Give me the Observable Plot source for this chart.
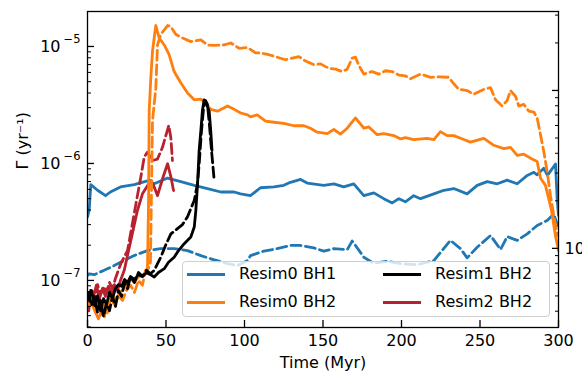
<!DOCTYPE html>
<html><head><meta charset="utf-8">
<script src="https://cdn.jsdelivr.net/npm/d3@7"></script>
<script src="https://cdn.jsdelivr.net/npm/@observablehq/plot@0.6"></script>
<style>
body{margin:0;background:#fff;font-family:"DejaVu Sans",sans-serif}
#wrap{position:relative;width:582px;height:373px;overflow:hidden}
#wrap svg{position:absolute;left:0;top:0}
#legend{position:absolute;left:182px;top:261px;width:366px;height:54px;border:1px solid #cfcfcf;border-radius:4px;background:rgba(255,255,255,0.8);font-size:16px;color:#000}
.item{position:absolute;height:20px;line-height:20px;white-space:nowrap}
.swatch{position:absolute;left:0;top:9px;width:38px;height:3px}
.lab{position:absolute;left:52px;top:0}
</style></head><body><div id="wrap"></div>
<script>
// ---- data: [time (Myr), Gamma (yr^-1)] ----
const blueSolid = [[0,3.5e-7],[1.1,4.0e-7],[2.1,6.6e-7],[6.4,5.9e-7],[11.5,5.3e-7],[14.6,5.7e-7],[21,6.3e-7],[29.7,6.6e-7],[38.2,7.1e-7],[42.5,6.7e-7],[51,7.5e-7],[59.4,7.0e-7],[68,6.5e-7],[76.4,6.1e-7],[84.9,5.7e-7],[93.4,5.7e-7],[97.5,5.5e-7],[103.8,5.3e-7],[110.2,6.2e-7],[118.7,6.3e-7],[125,6.5e-7],[129.3,6.9e-7],[135.7,7.3e-7],[139.9,6.8e-7],[150.5,6.5e-7],[156.9,6.7e-7],[163.2,6.3e-7],[169.6,6.7e-7],[176,5.3e-7],[182.4,5.6e-7],[188.7,5.0e-7],[194.1,4.6e-7],[198.3,5.0e-7],[202.5,4.7e-7],[207.8,5.3e-7],[212.1,5.0e-7],[220.6,5.5e-7],[227,5.9e-7],[233.3,6.1e-7],[241.8,5.5e-7],[248.2,6.5e-7],[254.6,7.0e-7],[261,6.7e-7],[267.3,7.2e-7],[273.7,6.7e-7],[280.1,7.9e-7],[284.3,8.4e-7],[286.4,8.0e-7],[290.6,9.1e-7],[293,7.9e-7],[298.1,9.9e-7],[299.2,4.8e-7],[300,3.6e-7]];
const blueDashed = [[0,1.1e-7],[1.1,1.14e-7],[4.3,1.12e-7],[10.6,1.22e-7],[17,1.34e-7],[23.4,1.48e-7],[29.7,1.63e-7],[38.2,1.8e-7],[46.7,1.87e-7],[55.2,1.87e-7],[63.7,1.8e-7],[72.2,1.63e-7],[80.7,1.5e-7],[89.2,1.39e-7],[95.5,1.34e-7],[101.9,1.48e-7],[103.8,1.63e-7],[112.3,1.78e-7],[120.8,1.87e-7],[129.3,1.99e-7],[135.7,1.99e-7],[144.1,1.9e-7],[150.5,1.78e-7],[156.9,1.87e-7],[165.4,1.83e-7],[168.6,2.17e-7],[170.7,1.99e-7],[176,1.58e-7],[182.4,1.4e-7],[190.9,1.46e-7],[199.4,1.39e-7],[210,1.36e-7],[220.6,1.48e-7],[231.2,2.2e-7],[237.6,1.87e-7],[241.8,1.56e-7],[248.2,1.92e-7],[256.7,2.42e-7],[263.1,1.84e-7],[267.3,2.37e-7],[273.7,2.2e-7],[280.1,2.5e-7],[286.4,2.95e-7],[292.8,3.26e-7],[297,3.7e-7],[299.4,2.95e-7]];
const orangeSolid = [[0.6,6.75e-8],[3.2,6.1e-8],[5.1,5.3e-8],[7,4.7e-8],[8.9,5.5e-8],[10.8,4.9e-8],[12.7,6.2e-8],[14.6,6.75e-8],[16.6,7.3e-8],[18.5,6.75e-8],[20.4,7.9e-8],[22.3,8.2e-8],[24.8,9.1e-8],[27.4,1.04e-7],[29.9,9.6e-8],[32.5,1.08e-7],[35,1.1e-7],[36.9,1.17e-7],[38.2,1.27e-7],[38.9,4.8e-7],[39.3,2.8e-6],[40.3,5.3e-6],[41.4,9.1e-6],[43.5,1.51e-5],[45.7,1.18e-5],[48.9,1.03e-5],[52,8.5e-6],[55.2,6.1e-6],[59.4,4.9e-6],[63.7,4.0e-6],[68,3.5e-6],[72.2,3.55e-6],[75.2,3.3e-6],[78.5,2.9e-6],[82.8,2.8e-6],[89.2,3.1e-6],[93.4,2.9e-6],[97.6,2.7e-6],[101.9,2.6e-6],[103.8,2.5e-6],[108.1,2.6e-6],[113.4,2.3e-6],[118.7,2.25e-6],[125,2.2e-6],[131.4,2.1e-6],[137.8,2.1e-6],[142,2.0e-6],[146.3,1.85e-6],[152.7,1.8e-6],[156.9,1.95e-6],[161.1,1.78e-6],[165.4,2.0e-6],[170.7,2.45e-6],[176,2.0e-6],[179.2,2.05e-6],[184.5,1.76e-6],[188.7,1.8e-6],[195.1,1.73e-6],[199.4,1.62e-6],[202.5,1.66e-6],[207.8,1.6e-6],[216.4,1.64e-6],[220.6,1.6e-6],[224.8,1.87e-6],[229.1,1.73e-6],[233.3,1.73e-6],[239.7,1.6e-6],[243.9,1.52e-6],[252.4,1.64e-6],[258.8,1.43e-6],[265.2,1.34e-6],[269.4,1.37e-6],[273.7,1.17e-6],[277.9,1.2e-6],[282.2,1.11e-6],[286.4,1.04e-6],[288.5,7.5e-7],[291.7,6.5e-7],[295.5,4.0e-7],[298.1,2.4e-7],[300,1.8e-7]];
const orangeDashed = [[0.6,6.1e-8],[3.2,7.3e-8],[5.1,5.5e-8],[7,6.75e-8],[8.9,5.1e-8],[10.8,6.1e-8],[12.7,5.3e-8],[14.6,7.0e-8],[17.2,6.2e-8],[19.7,7.4e-8],[22.3,6.75e-8],[24.8,8.2e-8],[27.4,9.1e-8],[29.9,7.9e-8],[32.5,1.0e-7],[35,9.1e-8],[36.9,1.22e-7],[38.9,1.27e-7],[40.1,1.43e-7],[41.4,2.3e-6],[43.5,4.4e-6],[44.6,1.03e-5],[46.7,1.27e-5],[51,1.51e-5],[53.1,1.48e-5],[56.2,1.27e-5],[60.5,1.18e-5],[65.8,1.1e-5],[72.2,1.14e-5],[76.4,1.03e-5],[80.7,1.02e-5],[87.1,1.03e-5],[91.3,1.07e-5],[96.6,9.65e-6],[101.9,9.8e-6],[107,8.8e-6],[110.2,8.8e-6],[115.5,8.5e-6],[120.8,8.1e-6],[126.1,7.7e-6],[130.4,7.95e-6],[134.6,8.2e-6],[138.9,7.5e-6],[144.1,7.0e-6],[148.4,7.1e-6],[153.7,6.5e-6],[158,6.4e-6],[162.2,6.1e-6],[165.4,6.4e-6],[168.6,7.95e-6],[170.7,8.1e-6],[172.8,6.9e-6],[176,5.8e-6],[181.3,6.1e-6],[185.5,5.8e-6],[189.8,6.2e-6],[194.1,6.1e-6],[198.3,5.7e-6],[202.5,5.6e-6],[205.7,5.3e-6],[212.1,5.8e-6],[218.5,5.45e-6],[223.8,5.5e-6],[230.1,5.45e-6],[233.3,4.8e-6],[236.5,4.3e-6],[241.8,4.2e-6],[246,3.9e-6],[252.4,4.3e-6],[256.7,4.45e-6],[259.9,3.5e-6],[264.1,3.1e-6],[267.3,3.45e-6],[269.4,4.2e-6],[272.6,3.75e-6],[274.7,3.1e-6],[277.9,3.2e-6],[281.1,2.8e-6],[284.3,2.75e-6],[286.4,2.45e-6],[288.5,1.77e-6],[290.6,1.27e-6],[292.8,8.5e-7],[294.9,5.3e-7],[297.5,3.26e-7],[299.4,2.42e-7]];
const blackSolid = [[0.6,6.75e-8],[2.5,8.2e-8],[4.5,6.1e-8],[6.4,7.4e-8],[8.3,5.5e-8],[10.2,7.0e-8],[12.1,6.2e-8],[14,7.9e-8],[15.9,7.0e-8],[17.8,8.5e-8],[19.7,9.2e-8],[21.7,8.9e-8],[23.6,1.02e-7],[25.5,9.6e-8],[27.4,1.08e-7],[29.9,1.02e-7],[32.5,1.12e-7],[35,1.08e-7],[37.6,1.17e-7],[40.1,1.12e-7],[42.5,1.07e-7],[45.2,1.17e-7],[48.9,1.26e-7],[51.6,1.43e-7],[55.2,1.58e-7],[58,1.8e-7],[61.6,2.06e-7],[65.8,2.35e-7],[68,2.86e-7],[69,3.96e-7],[70.1,6.7e-7],[71.1,1.29e-6],[72.2,1.91e-6],[73.2,2.84e-6],[74.3,3.5e-6],[75.8,3.2e-6],[77.5,2.8e-6],[78.5,1.91e-6],[79.3,1.29e-6]];
const blackDashed = [[0.6,7.9e-8],[2.5,6.1e-8],[4.5,7.3e-8],[6.4,5.3e-8],[8.3,6.75e-8],[10.2,4.9e-8],[12.1,6.4e-8],[14,5.5e-8],[15.9,7.3e-8],[17.8,6.0e-8],[19.7,8.2e-8],[21.7,7.3e-8],[23.6,9.6e-8],[25.5,8.5e-8],[27.4,1.08e-7],[29.9,9.6e-8],[32.5,1.17e-7],[35,1.08e-7],[37.6,1.22e-7],[40.1,1.14e-7],[42.5,1.22e-7],[46.7,1.58e-7],[49.7,1.99e-7],[53.1,2.5e-7],[57.3,2.77e-7],[60.5,3.0e-7],[63.7,3.5e-7],[68,4.83e-7],[70.1,6.75e-7],[71.3,1.06e-6],[72.6,1.91e-6],[73.9,2.95e-6],[75.2,3.45e-6],[76.4,3.2e-6],[77.7,2.11e-6],[79,1.29e-6],[80.7,7.16e-7]];
const redSolid = [[0.8,5.5e-8],[1.9,8.2e-8],[3.8,7.3e-8],[5.7,9.1e-8],[7.6,7.0e-8],[9.6,8.5e-8],[11.5,7.3e-8],[13.4,8.9e-8],[15.3,7.6e-8],[17.2,9.2e-8],[19.1,8.2e-8],[21,1.0e-7],[23.4,1.22e-7],[27.6,2.2e-7],[31.8,3.96e-7],[35,5.5e-7],[37.1,6.1e-7],[40.3,7.16e-7],[42.5,6.3e-7],[44.6,5.3e-7],[47.8,7.4e-7],[51,9.95e-7],[53.1,7.7e-7],[54.8,5.87e-7]];
const redDashed = [[0.6,6.75e-8],[2.5,8.5e-8],[4.5,7.0e-8],[6.4,9.2e-8],[8.3,7.6e-8],[10.2,8.9e-8],[12.1,7.9e-8],[14,9.6e-8],[15.9,8.5e-8],[17.8,1.04e-7],[21.2,1.39e-7],[25.5,1.8e-7],[29.7,3.7e-7],[34,7.7e-7],[36.1,1.13e-6],[38.2,1.25e-6],[41.4,1.06e-6],[44.6,1.09e-6],[47.8,1.38e-6],[49.9,1.73e-6],[51.8,2.11e-6],[53.1,1.65e-6],[54.1,1.06e-6]];

const seriesNames = ["Resim0 BH1", "Resim0 BH2", "Resim1 BH2", "Resim2 BH2"];
const seriesColors = ["#1f77b4", "#ff7f0e", "#000000", "#b8222f"];

const xTicks = [0, 50, 100, 150, 200, 250, 300];
const yMajor = [1e-7, 1e-6, 1e-5];
const yMinor = [];
for (let e = -8; e <= -5; e++) for (let m = 2; m <= 9; m++) { const v = m * 10 ** e; if (v >= 3.96e-8 && v <= 1.99e-5) yMinor.push(v); }
// right-hand twin axis (its labels run off the figure edge, as in the original)
const rightMajor = [1, 10];
const rightMajorLabels = ["10⁰", "10¹"];
const rightMinor = [];
for (let e = -1; e <= 1; e++) for (let m = 2; m <= 9; m++) rightMinor.push(m * 10 ** e);
const rightToLeft = v => 10 ** (-6.726 + 1.350 * Math.log10(v));

const expOf = d => "−" + String(Math.abs(Math.round(Math.log10(d))));

const toRows = arr => arr.map(([t, g]) => ({t, g}));
const lw = 2.8, dash = "10,4.5";
const lineMark = (arr, color, dashed) => Plot.line(toRows(arr), {x: "t", y: "g", stroke: color, strokeWidth: lw, strokeDasharray: dashed ? dash : null, strokeLinejoin: "round", clip: true});

const rightPos = rightMajor.map(rightToLeft);
const rightMinorPos = rightMinor.map(rightToLeft).filter(v => v >= 3.96e-8 && v <= 1.99e-5);

const chart = Plot.plot({
  width: 582, height: 373,
  marginLeft: 87, marginRight: 24, marginTop: 11, marginBottom: 46,
  style: {fontFamily: "DejaVu Sans, sans-serif", fontSize: "16px", background: "white", color: "black", overflow: "hidden"},
  x: {domain: [0, 300]},
  y: {type: "log", domain: [3.96e-8, 1.99e-5]},
  marks: [
    lineMark(blueSolid, seriesColors[0], false),
    lineMark(blueDashed, seriesColors[0], true),
    lineMark(redSolid, seriesColors[3], false),
    lineMark(redDashed, seriesColors[3], true),
    lineMark(orangeSolid, seriesColors[1], false),
    lineMark(orangeDashed, seriesColors[1], true),
    lineMark(blackSolid, seriesColors[2], false),
    lineMark(blackDashed, seriesColors[2], true),
    Plot.axisX(xTicks, {anchor: "bottom", tickSize: -7, tickPadding: 14, strokeWidth: 1.3, fontSize: 16, tickFormat: d => String(d), label: null}),
    Plot.axisY(yMajor, {anchor: "left", tickSize: -7, tickPadding: 0, strokeWidth: 1.3, tickFormat: () => "", label: null}),
    Plot.text(yMajor, {y: d => d, frameAnchor: "left", text: () => "10", textAnchor: "end", dx: -27, fontSize: 16, fill: "black"}),
    Plot.text(yMajor, {y: d => d, frameAnchor: "left", text: expOf, textAnchor: "end", dx: -7, dy: -7, fontSize: 11.5, fill: "black"}),
    Plot.axisY(yMinor, {anchor: "left", tickSize: -4, tickPadding: 0, strokeWidth: 1, tickFormat: () => "", label: null}),
    Plot.axisY(rightPos, {anchor: "right", tickSize: -7, tickPadding: 13, strokeWidth: 1.3, fontSize: 16, tickFormat: d => rightMajorLabels[rightPos.indexOf(d)], label: null}),
    Plot.axisY(rightMinorPos, {anchor: "right", tickSize: -4, tickPadding: 0, strokeWidth: 1, tickFormat: () => "", label: null}),
    Plot.frame({stroke: "black", strokeWidth: 1.3}),
    Plot.text(["Time (Myr)"], {text: d => d, frameAnchor: "bottom", dy: 35, lineAnchor: "middle", fontSize: 16, fill: "black"}),
    Plot.text(["Γ (yr⁻¹)"], {text: d => d, frameAnchor: "left", dx: -65, rotate: -90, lineAnchor: "middle", fontSize: 16, fill: "black"})
  ]
});
const wrap = document.getElementById("wrap");
wrap.appendChild(chart);

// legend (solid lines only, two columns)
const legend = document.createElement("div");
legend.id = "legend";
const pos = [[4, 2], [4, 30], [200, 2], [200, 30]];
seriesNames.forEach((name, i) => {
  const it = document.createElement("div");
  it.className = "item";
  it.style.left = pos[i][0] + "px";
  it.style.top = pos[i][1] + "px";
  const sw = document.createElement("div");
  sw.className = "swatch";
  sw.style.background = seriesColors[i];
  const lb = document.createElement("span");
  lb.className = "lab";
  lb.textContent = name;
  it.appendChild(sw); it.appendChild(lb);
  legend.appendChild(it);
});
wrap.appendChild(legend);
</script>
</body></html>
